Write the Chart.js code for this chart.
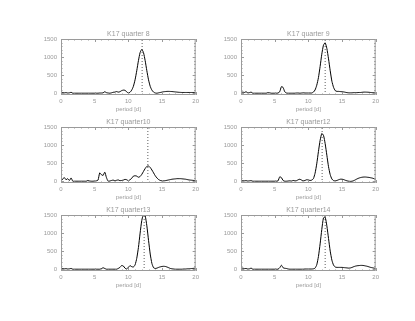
<!DOCTYPE html>
<html>
<head>
<meta charset="utf-8">
<script src="https://cdn.jsdelivr.net/npm/chart.js@4"></script>
<style>
  body { margin: 0; background: #fff; width: 415px; height: 321px; position: relative; overflow: hidden; }
  .panel { position: absolute; width: 171px; height: 90px; }
</style>
</head>
<body>
<div class="panel" style="left:31px;top:25px"><canvas id="q8"></canvas></div>
<div class="panel" style="left:211px;top:25px"><canvas id="q9"></canvas></div>
<div class="panel" style="left:31px;top:113px"><canvas id="q10"></canvas></div>
<div class="panel" style="left:211px;top:113px"><canvas id="q12"></canvas></div>
<div class="panel" style="left:31px;top:201px"><canvas id="q13"></canvas></div>
<div class="panel" style="left:211px;top:201px"><canvas id="q14"></canvas></div>
<script>
// periodogram of K17, one panel per Kepler quarter

const periods = [
  0, 0.25, 0.5, 0.75, 1, 1.25, 1.5, 1.75, 2, 2.25, 2.5, 2.75,
  3, 3.25, 3.5, 3.75, 4, 4.25, 4.5, 4.75, 5, 5.25, 5.5, 5.75,
  6, 6.25, 6.5, 6.75, 7, 7.25, 7.5, 7.75, 8, 8.25, 8.5, 8.75,
  9, 9.25, 9.5, 9.75, 10, 10.25, 10.5, 10.75, 11, 11.25, 11.5, 11.75,
  12, 12.25, 12.5, 12.75, 13, 13.25, 13.5, 13.75, 14, 14.25, 14.5, 14.75,
  15, 15.25, 15.5, 15.75, 16, 16.25, 16.5, 16.75, 17, 17.25, 17.5, 17.75,
  18, 18.25, 18.5, 18.75, 19, 19.25, 19.5, 19.75, 20
];

const q8 = [
  0, 20, 10, 15,  5, 10, 25, 0,  0, 0, 0, 0,  0, 0, 0, 0,  0, 0, 0, 0,
  0, 0, 0, 5,  5, 10, 40, 15,  5, 0, 10, 25,  30, 45, 30, 40,  70, 85, 80, 40,
  5, 25, 85, 190,  370, 620, 900, 1125,  1210, 1125, 900, 620,  370, 190, 85, 30,
  5, 0, 10, 20,  30, 40, 45, 50,  50, 48, 45, 40,  35, 30, 25, 22,
  20, 20, 20, 20,  20, 20, 20, 20,  20
];
const q9 = [
  0, 30, 20, 40,  10, 15, 30, 0,  0, 0, 0, 0,  0, 0, 0, 0,  15, 10, 0, 0,
  0, 0, 5, 40,  180, 160, 40, 5,  0, 0, 0, 0,  0, 5, 5, 0,  5, 10, 5, 5,
  5, 5, 5, 30,  90, 220, 430, 740,  1080, 1330, 1395, 1240,  950, 620, 330, 160,
  70, 50, 50, 45,  40, 35, 25, 15,  10, 10, 10, 15,  15, 15, 20, 20,
  25, 30, 30, 28,  25, 20, 15, 12,  10
];
const q10 = [
  0, 60, 100, 40,  70, 20, 90, 0,  0, 0, 0, 0,  0, 0, 0, 0,  20, 5, 0, 0,
  5, 10, 30, 230,  180, 160, 250, 100,  0, 5, 20, 30,  10, 25, 35, 15,  20, 30, 50, 40,
  15, 40, 80, 140,  150, 140, 110, 130,  190, 270, 350, 410,  420, 380, 310, 230,
  150, 90, 45, 20,  10, 10, 15, 25,  35, 45, 55, 60,  65, 70, 70, 70,
  65, 60, 55, 45,  35, 30, 25, 20,  15
];
const q12 = [
  0, 15, 10, 15,  5, 10, 15, 0,  0, 0, 0, 0,  0, 0, 0, 0,  0, 0, 0, 0,
  0, 0, 10, 120,  100, 20, 0, 0,  5, 10, 5, 20,  10, 15, 40, 55,  30, 10, 20, 40,
  35, 20, 30, 70,  220, 480, 820, 1130,  1320, 1270, 1040, 720,  400, 180, 60, 15,
  10, 20, 40, 55,  55, 45, 25, 10,  0, -5, 0, 15,  40, 65, 85, 100,
  110, 115, 115, 110,  105, 95, 85, 70,  50
];
const q13 = [
  0, 20, 10, 15,  5, 10, 20, 0,  0, 0, 0, 0,  0, 0, 0, 0,  0, 0, 0, 0,
  0, 0, 0, 0,  15, 40, 20, 0,  0, 0, 0, 0,  0, 0, 20, 50,  100, 90, 30, 5,
  50, 100, 70, 60,  120, 300, 600, 1000,  1350, 1520, 1480, 1200,  800, 420, 160, 40,
  20, 30, 50, 65,  75, 80, 75, 60,  40, 20, 10, 5,  0, 0, 0, 0,
  0, 5, 5, 10,  10, 15, 20, 25,  30
];
const q14 = [
  0, 30, 15, 20,  5, 10, 30, 0,  0, 0, 0, 0,  0, 0, 0, 0,  0, 0, 0, 0,
  0, 0, 0, 40,  110, 40, 25, 20,  5, 0, 0, 0,  0, 0, 0, 0,  0, 0, 5, 5,
  5, 5, 5, 10,  30, 120, 350, 700,  1100, 1420, 1440, 1200,  850, 500, 250, 110,
  60, 50, 50, 50,  50, 45, 40, 35,  30, 35, 50, 70,  85, 95, 100, 105,
  105, 100, 90, 80,  65, 50, 40, 30,  20
];

const titles = ['K17 quarter 8', 'K17 quarter 9', 'K17 quarter10', 'K17 quarter12', 'K17 quarter13', 'K17 quarter14'];
const series = [q8, q9, q10, q12, q13, q14];
const bestPeriods = [12.05, 12.5, 12.9, 12.05, 12.35, 12.5];
const canvasIds = ['q8', 'q9', 'q10', 'q12', 'q13', 'q14'];

const xTicks = [0, 5, 10, 15, 20];
const yTicks = [0, 500, 1000, 1500];
const xMin = 0, xMax = 20, yMin = -50, yMax = 1500;

const grey = '#9a9a9a';
const font = 'Liberation Sans';

// IDL style: box all round, ticks pointing inward, minor ticks in between
const idlBox = {
  id: 'idlBox',
  afterDraw(chart) {
    const { ctx, chartArea: a, scales: { x, y } } = chart;
    ctx.save();
    ctx.strokeStyle = grey;
    ctx.lineWidth = 1;
    ctx.strokeRect(a.left + 0.5, a.top + 0.5, a.right - a.left - 1, a.bottom - a.top - 1);
    ctx.beginPath();
    for (let v = xMin; v <= xMax; v += 1) {
      const px = Math.round(x.getPixelForValue(v)) + 0.5;
      const len = v % 5 === 0 ? 3 : 1.5;
      ctx.moveTo(px, a.bottom); ctx.lineTo(px, a.bottom - len);
      ctx.moveTo(px, a.top); ctx.lineTo(px, a.top + len);
    }
    for (let v = 0; v <= yMax; v += 100) {
      const py = Math.round(y.getPixelForValue(v)) + 0.5;
      const len = v % 500 === 0 ? 3 : 1.5;
      ctx.moveTo(a.left, py); ctx.lineTo(a.left + len, py);
      ctx.moveTo(a.right, py); ctx.lineTo(a.right - len, py);
    }
    ctx.stroke();
    ctx.fillStyle = grey;
    ctx.textAlign = 'center';
    ctx.textBaseline = 'alphabetic';
    ctx.font = '7px "' + font + '"';
    ctx.fillText(chart.options.plugins.idlBox.title, (a.left + a.right) / 2, a.top - 3);
    ctx.font = '6px "' + font + '"';
    ctx.fillText('period [d]', (a.left + a.right) / 2, a.bottom + 16);
    ctx.restore();
  }
};

canvasIds.forEach((id, i) => {
  const points = periods.map((p, k) => ({ x: p, y: series[i][k] }));
  new Chart(document.getElementById(id), {
    type: 'line',
    data: {
      datasets: [
        {
          data: points,
          borderColor: '#000',
          borderWidth: 1,
          pointRadius: 0,
          tension: 0.2
        },
        {
          data: [{ x: bestPeriods[i], y: yMin }, { x: bestPeriods[i], y: yMax }],
          borderColor: '#333',
          borderWidth: 0.8,
          borderDash: [1, 2],
          pointRadius: 0
        }
      ]
    },
    options: {
      responsive: true,
      maintainAspectRatio: false,
      animation: false,
      layout: { padding: { left: 0, right: 5, top: 14, bottom: 0 } },
      plugins: {
        legend: { display: false },
        tooltip: { enabled: false },
        idlBox: { title: titles[i] }
      },
      scales: {
        x: {
          type: 'linear',
          min: xMin,
          max: xMax,
          grid: { display: false, drawTicks: false },
          border: { display: false },
          afterBuildTicks: s => { s.ticks = xTicks.map(v => ({ value: v })); },
          afterFit: s => { s.height = 20; },
          ticks: { color: grey, padding: 3, maxRotation: 0, font: { family: font, size: 6 }, callback: v => String(v) }
        },
        y: {
          min: yMin,
          max: yMax,
          grid: { display: false, drawTicks: false },
          border: { display: false },
          afterBuildTicks: s => { s.ticks = yTicks.map(v => ({ value: v })); },
          afterFit: s => { s.width = 30; },
          ticks: { color: grey, padding: 4, font: { family: font, size: 6 }, callback: v => String(v) }
        }
      }
    },
    plugins: [idlBox]
  });
});
</script>
</body>
</html>
